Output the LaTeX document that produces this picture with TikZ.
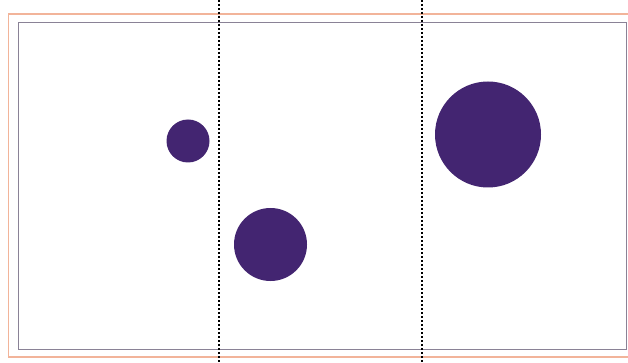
\documentclass[tikz,border=0pt]{standalone}
\usetikzlibrary{calc}
\definecolor{dotpurple}{HTML}{432571}
\definecolor{outerorange}{HTML}{F2B49A}
\definecolor{innergray}{HTML}{8A8296}
\tikzset{
  outerframe/.style={draw=outerorange, line width=1.2pt},
  innerframe/.style={draw=innergray, line width=1pt},
  divider/.style={draw=black, line width=1.3pt, dash pattern=on 2pt off 2pt},
  blob/.style={circle, fill=dotpurple, draw=none, inner sep=0pt}
}
\begin{document}
\begin{tikzpicture}[x=1pt,y=-1pt]
\useasboundingbox (0,0) rectangle (628,363);
\fill[white] (0,0) rectangle (628,363);
\draw[outerframe] (640,14) -- (8.5,14) -- (8.5,357) -- (640,357);
\draw[innerframe] (18.5,22.5) rectangle (626.5,349);
\coordinate (d1t) at (219,0);
\coordinate (d1b) at (219,363);
\coordinate (d2t) at (422,0);
\coordinate (d2b) at (422,363);
\draw[divider] (d1t) -- (d1b);
\draw[divider] (d2t) -- (d2b);
\node[blob, minimum size=43pt] (small) at (188,141) {};
\node[blob, minimum size=73pt] (mid) at (270.5,244.5) {};
\node[blob, minimum size=106pt] (big) at (488,134.5) {};
\end{tikzpicture}
\end{document}
